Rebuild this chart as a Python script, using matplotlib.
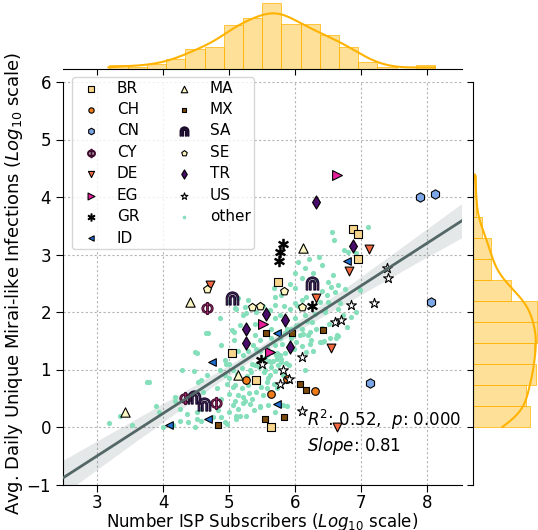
import numpy as np
import matplotlib
matplotlib.use("Agg")
import matplotlib.pyplot as plt
import seaborn as sns

# (log10 subscribers, log10 avg daily infections) per ISP
BR = [(6.88, 3.44), (6.95, 3.36), (6.95, 2.93), (5.74, 2.53), (5.04, 1.28), (5.40, 0.81), (5.63, 0.00)]
CH = [(5.63, 0.57), (6.30, 0.62), (5.25, 0.81), (5.88, 0.83)]
CN = [(7.89, 4.00), (8.12, 4.06), (8.06, 2.18), (7.13, 0.77)]
CY = [(4.67, 2.07), (4.33, 0.51), (4.80, 0.42)]
DE = [(4.71, 2.47), (7.12, 3.09), (6.81, 2.71), (6.31, 2.24), (6.54, 1.38), (6.64, 0.00)]
EG = [(6.64, 4.39), (5.52, 1.79), (5.62, 1.31)]
GR = [(5.82, 3.18), (5.77, 3.05), (5.75, 2.89), (6.25, 2.11), (5.48, 1.16)]
ID = [(6.78, 2.89), (5.73, 1.63), (4.74, 1.13), (5.73, 0.40), (4.68, 0.14), (4.08, 0.03)]
MA = [(4.40, 2.17), (6.12, 3.11), (3.42, 0.26), (5.13, 0.90)]
MX = [(6.42, 1.68), (5.56, 1.63), (5.95, 1.64), (6.07, 0.74), (6.16, 0.64), (5.54, 0.14), (5.83, 0.18), (4.83, 0.04)]
SA = [(5.05, 2.24), (6.25, 2.51), (4.47, 0.52), (4.62, 0.40)]
SE = [(4.67, 2.40), (5.83, 2.36), (6.11, 2.09), (5.34, 2.09), (5.47, 2.11)]
TR = [(6.32, 3.92), (6.88, 3.14), (5.56, 1.97), (5.84, 1.86), (5.26, 1.70), (5.26, 1.46), (5.92, 1.39)]
US = [(7.40, 2.76), (7.41, 2.60), (7.20, 2.15), (6.84, 2.12), (6.60, 1.83), (6.70, 1.86),
      (6.10, 1.22), (5.49, 1.10), (5.82, 0.99), (5.90, 0.84), (5.77, 0.75), (6.10, 0.28)]
OTHER = [
    (7.10, 3.47), (6.56, 3.39), (6.59, 3.25), (6.74, 3.08), (6.99, 3.35), (6.93, 3.02), (6.36, 2.96),
    (6.21, 2.93), (6.04, 2.87), (6.40, 2.82), (6.15, 2.76), (6.27, 2.67), (6.00, 2.67), (6.10, 2.60),
    (5.92, 2.48), (6.00, 2.41), (5.68, 2.41), (5.69, 2.26), (5.79, 2.29), (6.50, 2.53), (6.55, 2.44),
    (6.41, 2.36), (6.48, 2.30), (6.60, 2.35), (6.65, 2.47), (6.37, 2.18), (6.50, 2.18), (6.45, 2.06),
    (6.17, 2.26), (6.10, 2.21), (6.00, 2.15), (5.92, 2.06), (5.83, 2.11), (5.69, 2.13), (5.62, 2.03),
    (5.52, 2.11), (5.41, 2.00), (5.21, 1.94), (5.09, 2.07), (5.16, 1.77), (5.04, 1.68), (4.68, 1.63),
    (4.87, 1.42), (5.08, 1.51), (5.39, 1.80), (5.69, 1.89), (5.77, 1.94), (6.00, 1.89), (6.15, 1.94),
    (6.30, 1.97), (6.25, 1.83), (6.22, 1.65), (6.32, 1.71), (6.10, 1.71), (6.07, 1.60), (6.02, 1.48),
    (5.94, 1.71), (5.84, 1.63), (5.77, 1.54), (5.64, 1.71), (5.64, 1.54), (5.69, 1.42), (5.46, 1.51),
    (5.39, 1.60), (5.36, 1.42), (5.29, 1.33), (5.21, 1.25), (5.14, 1.33), (5.46, 1.33), (5.57, 1.25),
    (5.72, 1.28), (5.79, 1.19), (5.64, 1.13), (5.74, 1.07), (6.17, 1.31), (6.27, 1.33), (6.40, 1.48),
    (6.53, 1.54), (6.63, 1.60), (6.78, 1.74), (6.98, 2.38), (6.65, 2.06), (5.54, 0.99), (5.62, 0.90),
    (5.39, 1.07), (5.31, 0.99), (5.19, 1.02), (5.06, 0.99), (4.99, 1.10), (4.93, 0.90), (4.86, 0.99),
    (4.96, 0.75), (5.06, 0.70), (5.19, 0.67), (5.29, 0.73), (5.41, 0.61), (5.57, 0.67), (5.72, 0.67),
    (4.99, 0.58), (4.88, 0.49), (5.09, 0.46), (5.21, 0.52), (5.31, 0.40), (5.46, 0.37), (5.14, 0.32),
    (4.99, 0.26), (4.83, 0.29), (5.26, 0.20), (5.11, 0.14), (4.93, 0.08), (4.76, 0.17), (4.58, 0.11),
    (4.51, 0.26), (5.69, 0.26), (5.87, 0.37), (4.61, 0.61), (4.53, 0.78), (4.66, 0.90), (4.48, 1.31),
    (4.86, 1.89), (4.99, 2.18), (5.14, 2.24), (5.24, 2.09), (6.32, 2.56),
    (4.65, 1.64), (5.08, 1.65), (4.51, 1.28), (4.94, 1.16), (4.95, 1.09), (4.29, 0.99), (4.47, 0.97),
    (4.58, 0.81), (3.75, 0.79), (3.78, 0.78), (4.18, 0.46), (3.89, 0.36), (3.93, 0.26), (4.25, 0.32),
    (4.36, 0.23), (4.58, 0.32), (4.51, 0.14), (4.38, 0.09), (4.48, 0.00), (4.88, 0.17), (4.96, 0.06),
    (4.25, 0.11), (4.15, 0.03), (3.99, 0.00), (3.52, 0.04), (3.35, 0.19), (3.17, 0.07), (5.09, 0.73),
    (5.14, 0.55), (5.06, 0.38), (5.11, 0.20), (5.21, 0.41), (4.81, 0.67),
    (5.10, 2.05), (5.25, 1.99), (5.29, 2.21),
    (6.65, 1.58), (6.37, 1.48), (6.22, 1.45), (6.11, 1.41), (6.15, 0.99), (5.79, 1.13), (5.34, 0.49),
    (5.47, 0.35), (5.59, 0.38), (5.82, 0.38), (4.18, 0.53),
    # the packed middle of the cloud, where dots sit on top of each other
    (5.00, 0.85), (5.12, 0.92), (5.17, 0.20), (5.24, 0.45), (5.27, 0.88), (5.30, 0.60), (5.33, 0.95),
    (5.37, 0.30), (5.40, 1.35), (5.43, 0.80), (5.45, 1.05), (5.48, 0.70), (5.35, 1.09), (5.52, 0.55),
    (5.53, 0.95), (5.55, 1.20), (5.57, 1.40), (5.59, 0.85), (5.61, 1.15), (5.63, 1.05), (5.65, 1.30),
    (5.67, 1.15), (5.69, 0.98), (5.71, 1.25), (5.73, 1.18), (5.75, 1.65), (5.77, 1.25), (5.58, 0.78),
    (5.68, 0.75), (5.80, 1.45), (5.82, 0.90), (5.85, 1.28), (5.88, 1.70), (5.90, 1.08), (5.93, 1.55),
    (5.96, 1.60), (5.99, 1.35), (6.02, 1.75), (6.05, 2.10), (5.86, 1.12), (6.04, 1.78), (6.12, 1.62),
    (6.18, 1.85), (6.24, 1.52), (6.30, 2.30), (6.20, 1.60), (6.40, 1.72), (6.46, 2.00), (6.52, 1.80),
    (6.58, 2.65), (6.44, 1.50), (6.62, 1.55), (6.68, 2.15), (6.72, 1.95), (6.76, 2.40), (6.80, 3.05),
    (6.85, 1.92), (6.90, 3.45), (6.93, 2.00),
]

r2_text = "$R^2$: 0.52,  $p$: 0.000"
slope_text = "$Slope$: 0.81"

countries = ["BR", "CH", "CN", "CY", "DE", "EG", "GR", "ID", "MA", "MX", "SA", "SE", "TR", "US"]
points = [BR, CH, CN, CY, DE, EG, GR, ID, MA, MX, SA, SE, TR, US]

# marker, face, edge, size
styles = {
    "BR": ("s", "#f8d58c", "black", 30),
    "CH": ("o", "#f07c19", "black", 30),
    "CN": ("h", "#7ba7e6", "black", 45),
    "CY": (r"$\Phi$", "#c8337e", "#3a0a2a", 75),
    "DE": ("v", "#f4683f", "black", 40),
    "EG": (">", "#e61e9c", "black", 50),
    "GR": (r"$\ast$", "black", "black", 55),
    "ID": ("<", "#1f6fd6", "black", 30),
    "MA": ("^", "#fbf7c4", "black", 45),
    "MX": ("s", "#7b4a0c", "black", 25),
    "SA": (r"$\Cap$", "#4a2f6d", "#1a0a2a", 90),
    "SE": ("p", "#fdf6c0", "black", 35),
    "TR": ("d", "#4a0c6b", "black", 45),
    "US": ("*", "white", "black", 55),
}
hist_color = "#FFB300"
other_color = "#85dfbb"

all_pts = np.array(OTHER + [p for pts in points for p in pts])
all_x, all_y = all_pts[:, 0], all_pts[:, 1]

fig = plt.figure(figsize=(5.38, 5.30), dpi=100)
ax = fig.add_axes([63 / 538, 45.5 / 530, 399 / 538, 402.5 / 530])
ax_top = fig.add_axes([63 / 538, 461 / 530, 399 / 538, 69 / 530], sharex=ax)
ax_right = fig.add_axes([473.3 / 538, 45.5 / 530, 64.7 / 538, 402.5 / 530], sharey=ax)

ax.set_xlim(2.48, 8.53)
ax.set_ylim(-1, 6)
ax.grid(True, linestyle=(0, (2, 2)), color="#b5b5b5", lw=0.8)
ax.set_axisbelow(True)

oth = np.array(OTHER)
ax.scatter(oth[:, 0], oth[:, 1], s=14, color=other_color, linewidths=0, label="other", zorder=2)
for c, pts in zip(countries, points):
    pts = np.array(pts)
    m, fc, ec, s = styles[c]
    ax.scatter(pts[:, 0], pts[:, 1], marker=m, s=s, facecolor=fc, edgecolor=ec,
               linewidths=0.8, label=c, zorder=3)

sns.regplot(x=all_x, y=all_y, ax=ax, scatter=False, truncate=False, color="#536767",
            line_kws=dict(lw=2, zorder=4), seed=1)

ax.text(6.18, 0.12, r2_text, fontsize=12, va="center")
ax.text(6.18, -0.33, slope_text, fontsize=12, va="center")

h, l = ax.get_legend_handles_labels()
order = countries + ["other"]
hd = dict(zip(l, h))
ax.legend([hd[k] for k in order], order, ncol=2, loc="upper left", bbox_to_anchor=(0.022, 1.013),
          borderaxespad=0, fontsize=11, handlelength=2.0, handletextpad=0.7, columnspacing=1.9,
          labelspacing=0.42, markerscale=0.7, borderpad=0.25)

for side in ["top", "right"]:
    ax.spines[side].set_visible(False)
ax.tick_params(labelsize=12, length=5)
ax.tick_params(axis="x", pad=1.5)
ax.set_xticks(range(3, 9))
ax.set_yticks(range(-1, 7))
ax.set_xlabel("Number ISP Subscribers ($Log_{10}$ scale)", fontsize=12)
ax.set_ylabel("Avg. Daily Unique Mirai-like Infections ($Log_{10}$ scale)", fontsize=13)
ax.xaxis.set_label_coords(0.5, -0.066)
ax.yaxis.set_label_coords(-0.095, 0.5)

sns.histplot(x=all_x, bins=17, kde=True, ax=ax_top, color=hist_color, alpha=0.4,
             edgecolor=hist_color, linewidth=0.5, line_kws=dict(lw=1.5))
sns.histplot(y=all_y, bins=12, kde=True, ax=ax_right, color=hist_color, alpha=0.4,
             edgecolor=hist_color, linewidth=0.5, line_kws=dict(lw=1.5))

top_max = max(p.get_height() for p in ax_top.patches)
ax_top.set_ylim(0, top_max * 69 / 66)
for side in ["top", "right", "left"]:
    ax_top.spines[side].set_visible(False)
ax_top.tick_params(labelbottom=False, left=False, labelleft=False, length=4)
ax_top.set_xlabel("")
ax_top.set_ylabel("")

right_max = max(p.get_width() for p in ax_right.patches)
ax_right.set_xlim(0, right_max * 64.7 / 64)
for side in ["top", "right", "bottom"]:
    ax_right.spines[side].set_visible(False)
ax_right.tick_params(labelleft=False, bottom=False, labelbottom=False, length=4)
ax_right.set_xlabel("")
ax_right.set_ylabel("")

fig.savefig("out.png", dpi=100)
